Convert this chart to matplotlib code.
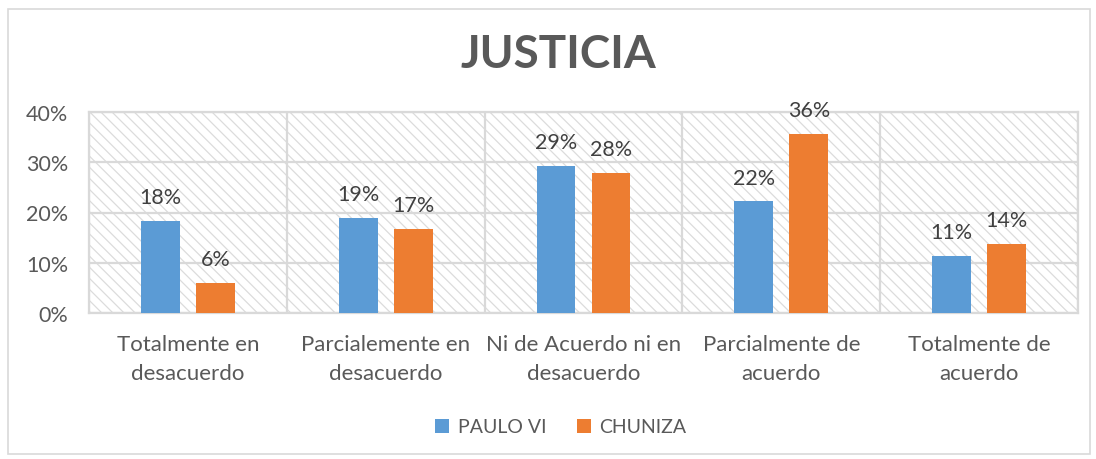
import matplotlib
matplotlib.use("Agg")
import matplotlib.pyplot as plt
from matplotlib.patches import Rectangle
import numpy as np

categories = ["Totalmente en\ndesacuerdo", "Parcialemente en\ndesacuerdo",
              "Ni de Acuerdo ni en\ndesacuerdo", "Parcialmente de\nacuerdo",
              "Totalmente de\nacuerdo"]
paulo_vi = [0.183, 0.189, 0.292, 0.222, 0.114]
chuniza = [0.060, 0.167, 0.278, 0.357, 0.137]
series_names = ["PAULO VI", "CHUNIZA"]
yticks = [0, 0.1, 0.2, 0.3, 0.4]
ytick_labels = ["0%", "10%", "20%", "30%", "40%"]

BLUE = "#5B9BD5"
ORANGE = "#ED7D31"
GRID = "#D9D9D9"
TXT = "#595959"

plt.rcParams['font.family'] = ['Lato', 'DejaVu Sans']
plt.rcParams['hatch.color'] = '#DCDCDC'
plt.rcParams['hatch.linewidth'] = 0.9

fig = plt.figure(figsize=(10.96, 4.60), dpi=100)
fig.patches.append(Rectangle((8/1096, 1-455/460), (1090-8)/1096, (455-10)/460,
                             transform=fig.transFigure, fill=False,
                             edgecolor=GRID, linewidth=1.2, zorder=0))

ax = fig.add_axes([89/1096, 1-314/460, (1078-89)/1096, (314-113)/460])
ax.set_xlim(-0.5, len(categories)-0.5)
ax.set_ylim(0, 0.4)

bg = Rectangle((0, 0), 1, 1, transform=ax.transAxes, facecolor='white',
               edgecolor='#DCDCDC', linewidth=0, hatch='\\\\\\', zorder=0)
ax.add_patch(bg)

x = np.arange(len(categories))
w = 0.197
off = 0.139
b1 = ax.bar(x - off, paulo_vi, w, color=BLUE, zorder=3, label=series_names[0])
b2 = ax.bar(x + off, chuniza, w, color=ORANGE, zorder=3, label=series_names[1])

for bars, vals in ((b1, paulo_vi), (b2, chuniza)):
    for rect, v in zip(bars, vals):
        ax.annotate(f"{round(v*100):.0f}%", (rect.get_x()+rect.get_width()/2, v),
                    xytext=(0, 10), textcoords='offset points', ha='center',
                    va='bottom', fontsize=15.5, color='#404040', zorder=4)

for yv in yticks:
    ax.axhline(yv, color=GRID, linewidth=1.6, zorder=1)
for xv in np.arange(-0.5, len(categories), 1.0):
    ax.axvline(xv, color=GRID, linewidth=1.6, zorder=1)

for s in ax.spines.values():
    s.set_color(GRID)
    s.set_linewidth(1.6)

ax.set_yticks(yticks)
ax.set_yticklabels(ytick_labels, fontsize=15.5, color=TXT)
ax.set_xticks(x)
ax.set_xticklabels(categories, fontsize=16, color=TXT, linespacing=1.6)
ax.tick_params(axis='both', length=0)
ax.tick_params(axis='x', pad=15)
ax.tick_params(axis='y', pad=15)

fig.text(558/1096, 1-55/460, "JUSTICIA", ha='center', va='center',
         fontsize=33, fontweight='bold', color=TXT)

leg = fig.legend(handles=[b1, b2], labels=series_names, loc='center',
                 bbox_to_anchor=(561/1096, 1-428/460), ncol=2, frameon=False,
                 fontsize=14, handlelength=0.7, handleheight=0.7,
                 columnspacing=1.6, handletextpad=0.45)
for t in leg.get_texts():
    t.set_color(TXT)

fig.savefig("out.png", dpi=100)
